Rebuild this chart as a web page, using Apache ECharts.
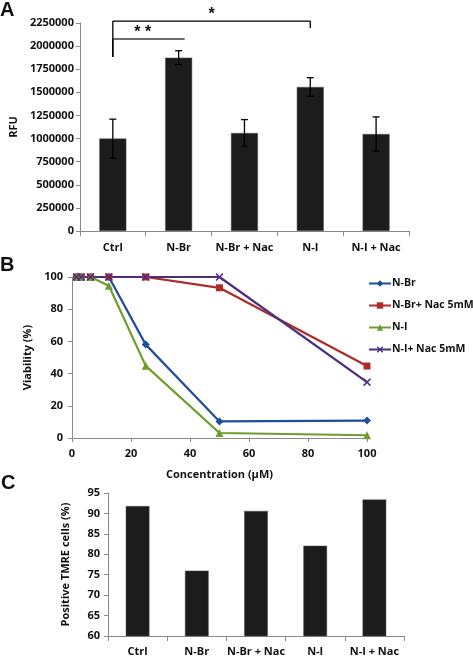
<!DOCTYPE html>
<html><head><meta charset="utf-8">
<style>html,body{margin:0;padding:0;background:#fff;}#c{width:473px;height:657px;}</style>
<script src="https://cdn.jsdelivr.net/npm/echarts@6/dist/echarts.min.js"></script>
</head><body><div id="c"></div>
<script>
// Panel A
const catA = ['Ctrl', 'N-Br', 'N-Br + Nac', 'N-I', 'N-I + Nac'];
const rfu = [1000000, 1875000, 1060000, 1558000, 1049000];
const rfuErr = [210000, 75000, 145000, 100000, 185000];
const sigFrom = [0, 0];
const sigTo = [1, 3];
const sigLevel = [2077000, 2271000];
const sigBase = [1882000, 1882000];
const sigDrop = [2077000, 2196000];
const sigText = ['* *', '*'];
// Panel B
const conc = [1.5625, 3.125, 6.25, 12.5, 25, 50, 100];
const nBr = [100, 100, 100, 100, 58, 10.3, 10.8];
const nBrNac = [100, 100, 100, 100, 100, 93.3, 44.7];
const nI = [100, 100, 100, 94.6, 44.8, 3.1, 1.7];
const nINac = [100, 100, 100, 100, 100, 100, 34.7];
// Panel C
const catC = ['Ctrl', 'N-Br', 'N-Br + Nac', 'N-I', 'N-I + Nac'];
const tmre = [91.8, 76.0, 90.6, 82.1, 93.4];

const F = 'Open Sans';
const lab = {fontFamily: F, fontWeight: 'bold', fontSize: 11, color: '#111', formatter: v => String(v)};
const axLine = {lineStyle: {color: '#8a8a8a', width: 1}};
const tick = {show: true, length: 4, lineStyle: {color: '#8a8a8a'}};
const pair = (xs, ys) => xs.map((x, i) => [x, ys[i]]);
const xPath = 'path://M0,1.4L1.4,0L5,3.6L8.6,0L10,1.4L6.4,5L10,8.6L8.6,10L5,6.4L1.4,10L0,8.6L3.6,5Z';
const nameStyle = {fontFamily: F, fontWeight: 'bold', fontSize: 11, color: '#111'};

const chart = echarts.init(document.getElementById('c'));
chart.setOption({
  animation: false,
  backgroundColor: '#fff',
  graphic: [
    {type: 'text', left: 0, top: 0, style: {text: 'A', font: 'bold 20px "Liberation Sans"', fill: '#111'}},
    {type: 'text', left: 0, top: 255, style: {text: 'B', font: 'bold 20px "Liberation Sans"', fill: '#111'}},
    {type: 'text', left: 1, top: 473, style: {text: 'C', font: 'bold 20px "Liberation Sans"', fill: '#111'}}
  ],
  grid: [
    {left: 78, top: 23, width: 331, height: 208},
    {left: 72, top: 277, width: 295, height: 161},
    {left: 108, top: 493, width: 296, height: 144}
  ],
  legend: {
    data: ['N-Br', 'N-Br+ Nac 5mM', 'N-I', 'N-I+ Nac 5mM'],
    orient: 'vertical', left: 363, top: 273, itemWidth: 22, itemHeight: 8, itemGap: 11,
    textStyle: {fontFamily: F, fontWeight: 'bold', fontSize: 10.5, color: '#111', padding: [0, 0, 0, -4]}
  },
  xAxis: [
    {gridIndex: 0, type: 'category', data: catA, axisLine: axLine,
     axisTick: {show: true, length: 5, lineStyle: {color: '#8a8a8a'}},
     axisLabel: Object.assign({}, lab, {margin: 11, interval: 0, formatter: null})},
    {gridIndex: 1, type: 'value', min: 0, max: 100, interval: 20, axisLine: axLine,
     axisTick: tick, splitLine: {show: false}, axisLabel: Object.assign({}, lab, {margin: 10}),
     name: 'Concentration (µM)', nameLocation: 'middle', nameGap: 31, nameTextStyle: nameStyle},
    {gridIndex: 2, type: 'category', data: catC, axisLine: axLine,
     axisTick: {show: true, length: 5, lineStyle: {color: '#8a8a8a'}},
     axisLabel: Object.assign({}, lab, {margin: 10, interval: 0, formatter: null})}
  ],
  yAxis: [
    {gridIndex: 0, type: 'value', min: 0, max: 2250000, interval: 250000, axisLine: Object.assign({show: true}, axLine),
     axisTick: tick, splitLine: {show: false}, axisLabel: Object.assign({}, lab, {margin: 6}),
     name: 'RFU', nameLocation: 'middle', nameGap: 60, nameRotate: 90, nameTextStyle: nameStyle},
    {gridIndex: 1, type: 'value', min: 0, max: 100, interval: 20, axisLine: Object.assign({show: true}, axLine),
     axisTick: tick, splitLine: {show: false}, axisLabel: Object.assign({}, lab, {margin: 9}),
     name: 'Viability (%)', nameLocation: 'middle', nameGap: 36, nameRotate: 90, nameTextStyle: nameStyle},
    {gridIndex: 2, type: 'value', min: 60, max: 95, interval: 5, axisLine: Object.assign({show: true}, axLine),
     axisTick: tick, splitLine: {show: false}, axisLabel: Object.assign({}, lab, {margin: 8}),
     name: 'Positive TMRE cells (%)', nameLocation: 'middle', nameGap: 37, nameRotate: 90, nameTextStyle: nameStyle}
  ],
  series: [
    {type: 'bar', xAxisIndex: 0, yAxisIndex: 0, data: rfu, barWidth: '41%',
     itemStyle: {color: '#1c1c1c', borderColor: '#555', borderWidth: 0.5}},
    {type: 'custom', xAxisIndex: 0, yAxisIndex: 0, clip: false, z: 5,
     data: rfu.map((v, i) => [i, v - rfuErr[i], v + rfuErr[i]]),
     renderItem: (params, api) => {
       const lo = api.coord([api.value(0), api.value(1)]);
       const hi = api.coord([api.value(0), api.value(2)]);
       const w = 3.5;
       const st = {stroke: '#000', lineWidth: 1.3};
       return {type: 'group', children: [
         {type: 'line', shape: {x1: lo[0], y1: lo[1], x2: hi[0], y2: hi[1]}, style: st},
         {type: 'line', shape: {x1: lo[0] - w, y1: lo[1], x2: lo[0] + w, y2: lo[1]}, style: st},
         {type: 'line', shape: {x1: hi[0] - w, y1: hi[1], x2: hi[0] + w, y2: hi[1]}, style: st}
       ]};
     }},
    {type: 'custom', xAxisIndex: 0, yAxisIndex: 0, clip: false, z: 6,
     data: sigFrom.map((f, i) => [f, sigTo[i], sigLevel[i], sigBase[i], sigDrop[i], i]),
     renderItem: (params, api) => {
       const i = api.value(5);
       const a = api.coord([api.value(0), api.value(3)]);
       const b = api.coord([api.value(0), api.value(2)]);
       const c = api.coord([api.value(1), api.value(2)]);
       const d = api.coord([api.value(1), api.value(4)]);
       const gray = i === 0;
       const ext = gray ? 6 : 0;
       const hst = gray ? {stroke: '#6e6e6e', lineWidth: 2} : {stroke: '#000', lineWidth: 1.3};
       const vst = {stroke: '#000', lineWidth: 1.3};
       return {type: 'group', children: [
         {type: 'line', shape: {x1: a[0], y1: a[1], x2: b[0], y2: b[1]}, style: vst},
         {type: 'line', shape: {x1: b[0], y1: b[1], x2: c[0] + ext, y2: c[1]}, style: hst},
         {type: 'line', shape: {x1: c[0], y1: c[1], x2: d[0], y2: d[1]}, style: vst},
         {type: 'text', x: (b[0] + c[0]) / 2 - (gray ? 3 : 0), y: b[1] + 2,
          style: {text: sigText[i], font: 'bold 16px "Liberation Sans"', fill: '#111', align: 'center', verticalAlign: 'bottom'}}
       ]};
     }},
    {name: 'N-Br', type: 'line', xAxisIndex: 1, yAxisIndex: 1, data: pair(conc, nBr),
     symbol: 'diamond', symbolSize: 8, lineStyle: {color: '#1f4e9c', width: 2.2}, itemStyle: {color: '#1f4e9c'}},
    {name: 'N-Br+ Nac 5mM', type: 'line', xAxisIndex: 1, yAxisIndex: 1, data: pair(conc, nBrNac),
     symbol: 'rect', symbolSize: 7, lineStyle: {color: '#b02a2a', width: 2.2}, itemStyle: {color: '#b02a2a'}},
    {name: 'N-I', type: 'line', xAxisIndex: 1, yAxisIndex: 1, data: pair(conc, nI),
     symbol: 'triangle', symbolSize: 8, lineStyle: {color: '#6f9c2e', width: 2.2}, itemStyle: {color: '#6f9c2e'}},
    {name: 'N-I+ Nac 5mM', type: 'line', xAxisIndex: 1, yAxisIndex: 1, data: pair(conc, nINac),
     symbol: xPath, symbolSize: 8, lineStyle: {color: '#4b2e80', width: 2.2}, itemStyle: {color: '#4b2e80'}},
    {type: 'bar', xAxisIndex: 2, yAxisIndex: 2, data: tmre, barWidth: '40%',
     itemStyle: {color: '#1c1c1c', borderColor: '#555', borderWidth: 0.5}}
  ]
});
</script></body></html>
